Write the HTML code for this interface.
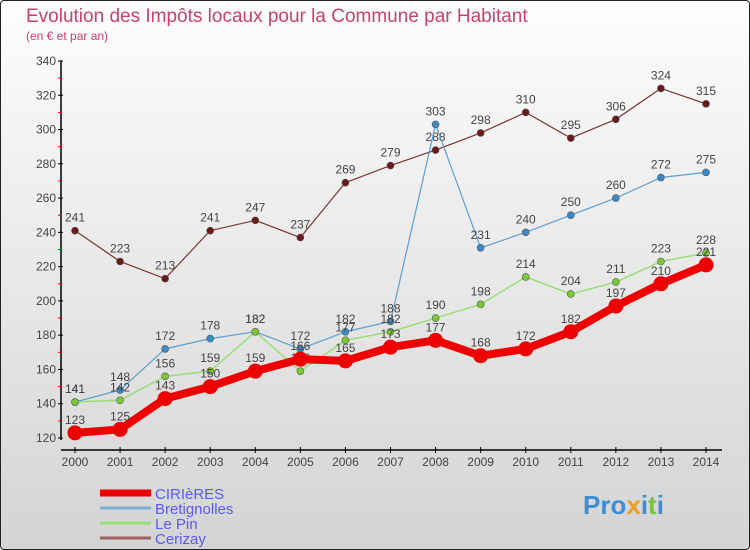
<!DOCTYPE html>
<html><head><meta charset="utf-8"><style>
body{margin:0;width:750px;height:550px;overflow:hidden;font-family:"Liberation Sans",sans-serif}
#wrap{position:absolute;left:0;top:0;width:748px;height:548px;border:1px solid #222;border-radius:4px;background:linear-gradient(#fdfdfd,#d4d4d4)}
</style></head><body>
<div id="wrap">
<svg id="svg" width="750" height="550" style="position:absolute;left:-1px;top:-1px">
<text x="26" y="22" font-size="19" fill="#c8426e">Evolution des Impôts locaux pour la Commune par Habitant</text>
<text x="26" y="40" font-size="12" fill="#c8426e">(en € et par an)</text>
<g id="axes"></g><g id="series"></g><g id="legend"></g>
<text x="583" y="514" font-size="26" font-weight="bold" fill="#3a8fd8">Pro<tspan fill="#e8a020">x</tspan>i<tspan fill="#7cc040">t</tspan>i</text>
</svg></div>
<script>
const years=[2000,2001,2002,2003,2004,2005,2006,2007,2008,2009,2010,2011,2012,2013,2014];
const yTicks=[120,140,160,180,200,220,240,260,280,300,320,340];
const cirieres=[123,125,143,150,159,166,165,173,177,168,172,182,197,210,221];
const bretignolles=[141,148,172,178,182,172,182,188,303,231,240,250,260,272,275];
const lepin=[141,142,156,159,182,159,177,182,190,198,214,204,211,223,228];
const cerizay=[241,223,213,241,247,237,269,279,288,298,310,295,306,324,315];
const NS='http://www.w3.org/2000/svg';
const X=i=>75+i*(706-75)/(years.length-1);
const Y=v=>438-(v-120)*(438-61)/220;
function mk(t,a,p){const e=document.createElementNS(NS,t);for(const k in a)e.setAttribute(k,a[k]);p.appendChild(e);return e;}
const ax=document.getElementById('axes');
let l=mk('line',{x1:61,y1:Y(340),x2:61,y2:440,stroke:'#000','stroke-width':1.5},ax);


l=mk('line',{x1:61,y1:450,x2:722,y2:450,stroke:'#000','stroke-width':1.5},ax);


yTicks.forEach(v=>{
 mk('line',{x1:58,y1:Y(v),x2:63,y2:Y(v),stroke:'#000'},ax);
 if(v<340)mk('line',{x1:58,y1:Y(v+10),x2:61,y2:Y(v+10),stroke:'#e00'},ax);
 const t=mk('text',{x:56,y:Y(v)+4,'text-anchor':'end','font-size':12,fill:'#444'},ax);t.textContent=v;
 
 
});
years.forEach((y,i)=>{
 mk('line',{x1:X(i),y1:447,x2:X(i),y2:453,stroke:'#000'},ax);
 const t=mk('text',{x:X(i),y:466,'text-anchor':'middle','font-size':12,fill:'#444'},ax);t.textContent=y;
 
 
});
const sg=document.getElementById('series');
function draw(data,color,w,r,name,dot){
 const g=mk('g',{},sg);
 
 
 mk('polyline',{points:data.map((v,i)=>X(i)+','+Y(v)).join(' '),fill:'none',stroke:color,'stroke-width':w,'stroke-linejoin':'round'},g);
 data.forEach((v,i)=>{
  const c=mk('circle',{cx:X(i),cy:Y(v),r:r,fill:dot,stroke:'#555','stroke-width':r>5?0:0.6},g);
  
  
  const t=mk('text',{x:X(i),y:Y(v)-9,'text-anchor':'middle','font-size':12,fill:'#444'},g);t.textContent=v;
  
  
 });
}
draw(cerizay,'#7a3333',1.2,3.5,'cerizay','#6b1a1a');
draw(bretignolles,'#5a9fd0',1.2,3.5,'bretignolles','#3a8ac8');
draw(lepin,'#99dd77',1.5,3.5,'le-pin','#77cc33');
draw(cirieres,'#ee0000',8,7.5,'cirieres','#ee0000');
const lg=document.getElementById('legend');
const items=[['CIRIèRES','#ee0000',7],['Bretignolles','#7ab0d0',3],['Le Pin','#99dd77',3],['Cerizay','#a06060',3]];
items.forEach((it,i)=>{
 const y=493+i*15;
 const g=mk('g',{},lg);
 
 
 mk('line',{x1:100,y1:y,x2:151,y2:y,stroke:it[1],'stroke-width':it[2]},g);
 const t=mk('text',{x:155,y:y+6,'font-size':15,fill:'#5a5aee'},g);t.textContent=it[0];
});
</script>
</body></html>
